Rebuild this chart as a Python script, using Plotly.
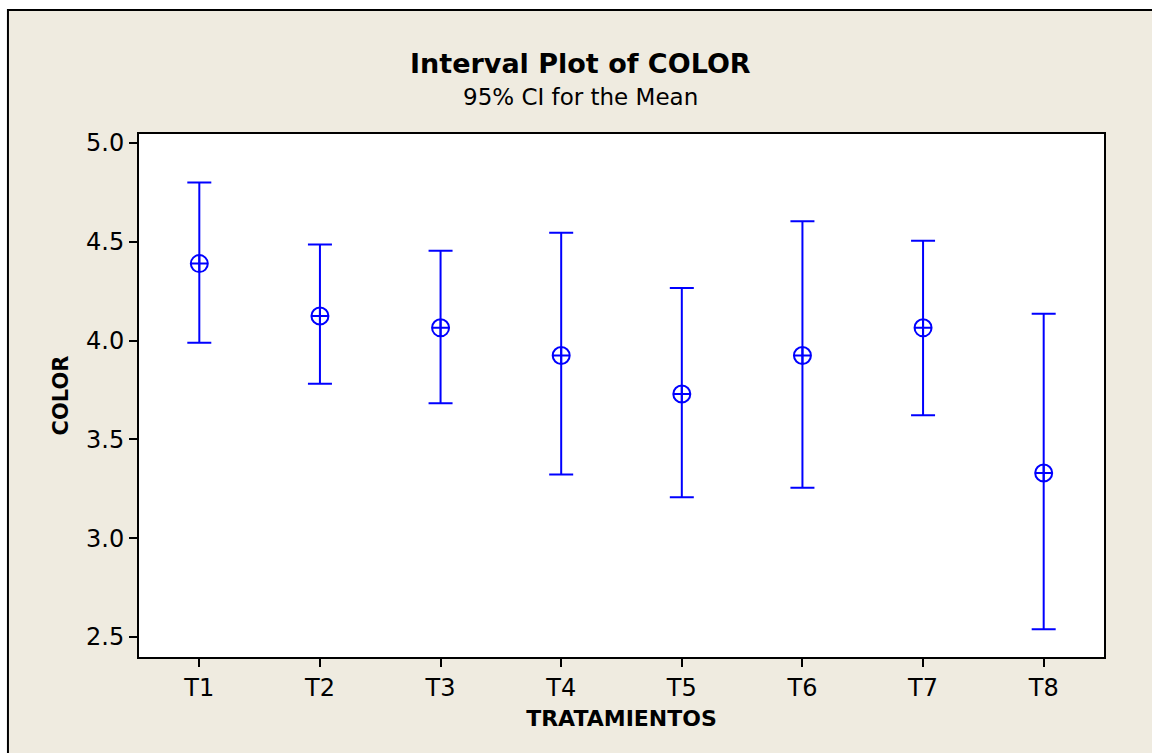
import plotly.graph_objects as go

# Treatment groups and 95% confidence intervals for the mean COLOR score
treatments = ["T1", "T2", "T3", "T4", "T5", "T6", "T7", "T8"]
means = [4.39, 4.125, 4.065, 3.925, 3.73, 3.925, 4.065, 3.33]
ci_upper = [4.80, 4.487, 4.455, 4.546, 4.266, 4.605, 4.506, 4.136]
ci_lower = [3.99, 3.782, 3.683, 3.323, 3.207, 3.256, 3.623, 2.539]
y_ticks = [2.5, 3.0, 3.5, 4.0, 4.5, 5.0]

BLUE = "#0000FF"
BEIGE = "#EFEBE0"
FONT = "DejaVu Sans"

err_plus = [u - m for u, m in zip(ci_upper, means)]
err_minus = [m - l for m, l in zip(means, ci_lower)]

fig = go.Figure()
fig.add_trace(go.Scatter(
    x=treatments,
    y=means,
    mode="markers",
    marker=dict(symbol="circle-cross-open", size=17, color=BLUE,
                line=dict(width=2, color=BLUE)),
    error_y=dict(type="data", symmetric=False, array=err_plus,
                 arrayminus=err_minus, color=BLUE, thickness=2, width=12),
    showlegend=False,
    hoverinfo="skip",
))

# Framed beige panel behind everything, then the white plotting region
fig.add_shape(type="rect", xref="paper", yref="paper",
              x0=-0.1358, x1=2.0, y0=-1.0, y1=1.2371,
              fillcolor=BEIGE, line=dict(color="black", width=2), layer="below")
fig.add_shape(type="rect", xref="paper", yref="paper",
              x0=0, x1=1, y0=0, y1=1,
              fillcolor="white", line=dict(width=0), layer="below")

fig.add_annotation(text="<b>Interval Plot of COLOR</b>", xref="paper", yref="paper",
                   x=0.458, y=1.134, xanchor="center", yanchor="middle",
                   showarrow=False, font=dict(family=FONT, size=27, color="black"))
fig.add_annotation(text="95% CI for the Mean", xref="paper", yref="paper",
                   x=0.458, y=1.071, xanchor="center", yanchor="middle",
                   showarrow=False, font=dict(family=FONT, size=23, color="black"))

fig.update_xaxes(
    type="category", range=[-0.5, 7.5],
    showline=True, linewidth=2, linecolor="black", mirror=True,
    ticks="outside", ticklen=8, tickwidth=2, tickcolor="black",
    showgrid=False, zeroline=False,
    tickfont=dict(family=FONT, size=24, color="black"),
    title=dict(text="<b>TRATAMIENTOS</b>", standoff=10,
               font=dict(family=FONT, size=22, color="black")),
)
fig.update_yaxes(
    range=[2.399, 5.046], tickvals=y_ticks,
    ticktext=[f"{v:.1f}" for v in y_ticks],
    showline=True, linewidth=2, linecolor="black", mirror=True,
    ticks="outside", ticklen=8, tickwidth=2, tickcolor="black",
    showgrid=False, zeroline=False,
    tickfont=dict(family=FONT, size=24, color="black"),
    title=dict(text="<b>COLOR</b>", standoff=12,
               font=dict(family=FONT, size=21, color="black")),
)

fig.update_layout(
    width=1152, height=753,
    margin=dict(l=139, r=48, t=134, b=96),
    paper_bgcolor="white",
    plot_bgcolor="white",
    font=dict(family=FONT, color="black"),
)

fig.write_html("out.html")
